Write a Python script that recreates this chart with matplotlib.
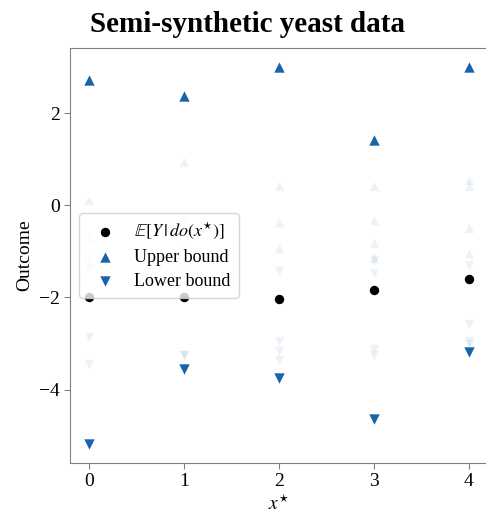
import matplotlib
matplotlib.use("Agg")
import matplotlib.pyplot as plt
import numpy as np

# treatment values
x_values = [0, 1, 2, 3, 4]

# point estimates and the widest bounds
mean_outcome = [-2.00, -2.00, -2.04, -1.83, -1.59]
upper_bound = [2.71, 2.37, 3.00, 1.42, 3.00]
lower_bound = [-5.18, -3.56, -3.75, -4.64, -3.19]

# tighter bounds (faint markers), one list per x value
faint_upper = [
    [0.12, -0.68, -1.07, -1.29],
    [0.94, -0.25, -0.92],
    [0.42, -0.36, -0.93],
    [0.41, -0.31, -0.81, -1.14],
    [0.55, 0.41, -0.49, -1.03],
]
faint_lower = [
    [-1.35, -2.87, -3.45],
    [-1.46, -3.26, -3.26],
    [-1.42, -2.95, -3.16, -3.35],
    [-1.18, -1.46, -3.12, -3.25],
    [-1.29, -2.58, -2.94, -3.02],
]

blue = "#1764ab"

plt.rcParams["font.family"] = ["Liberation Serif", "DejaVu Serif"]
plt.rcParams["mathtext.fontset"] = "stix"

fig = plt.figure(figsize=(4.86, 5.13), dpi=100)
ax = fig.add_axes([0.144, 0.098, 0.86, 0.808])

for x, ups, lows in zip(x_values, faint_upper, faint_lower):
    ax.scatter([x] * len(ups), ups, marker="^", s=46, color=blue, alpha=0.08, linewidths=0)
    ax.scatter([x] * len(lows), lows, marker="v", s=46, color=blue, alpha=0.08, linewidths=0)

ax.scatter(x_values, mean_outcome, marker="o", s=46, color="black", linewidths=0,
           label=r"$\mathbb{E}[Y\,|\,do(x^{\star})]$")
ax.scatter(x_values, upper_bound, marker="^", s=56, color=blue, linewidths=0, label="Upper bound")
ax.scatter(x_values, lower_bound, marker="v", s=56, color=blue, linewidths=0, label="Lower bound")

ax.set_xticks(x_values)
ax.set_yticks([-4, -2, 0, 2])
ax.tick_params(labelsize=14, color="#808080", length=4)
for side in ("top", "right", "left", "bottom"):
    ax.spines[side].set_color("#808080")

ax.set_xlabel(r"$x^{\star}$", fontsize=14, labelpad=3)
ax.set_ylabel("Outcome", fontsize=14)
fig.suptitle("Semi-synthetic yeast data", x=0.51, y=0.978, fontsize=21, fontweight="bold")

ax.legend(loc="center left", fontsize=13, handletextpad=0.6, borderpad=0.45,
          labelspacing=0.4, bbox_to_anchor=(0.0, 0.5), frameon=True)

fig.savefig("out.png", dpi=100)
